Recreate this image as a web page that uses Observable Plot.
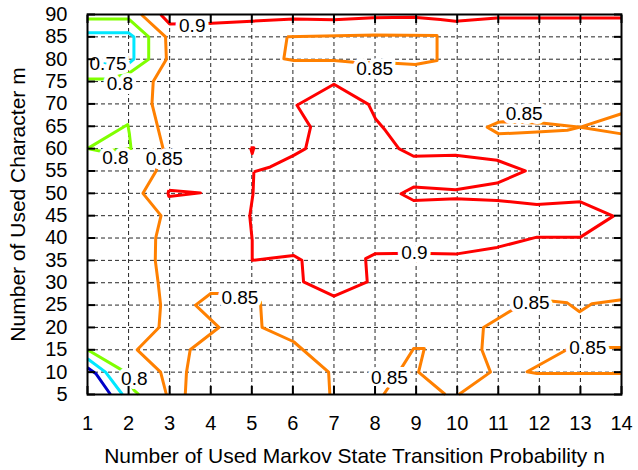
<!DOCTYPE html>
<html><head><meta charset="utf-8">
<script src="https://cdn.jsdelivr.net/npm/d3@7"></script>
<script src="https://cdn.jsdelivr.net/npm/@observablehq/plot@0.6"></script>
<style>html,body{margin:0;padding:0;background:#fff;} svg{display:block}</style>
</head><body><div id="chart"></div>
<script>
// Axes
const xTicks = [1,2,3,4,5,6,7,8,9,10,11,12,13,14];
const yTicks = [5,10,15,20,25,30,35,40,45,50,55,60,65,70,75,80,85,90];
const xTitle = "Number of Used Markov State Transition Probability n";
const yTitle = "Number of Used Character m";

// Contour levels and colours
const levels = [0.7, 0.75, 0.8, 0.85, 0.9];
const levelColors = ["#0000c8", "#00e8ff", "#80ff00", "#ff8000", "#ff0000"];

// Contour lines, [n, m] points
const red90Top = [[2.78,90],[3.0,87.9],[3.91,88],[5,88.5],[6.02,89],[7.0,88.8],[7.96,89.3],[8.94,89.4],[9.59,88.9],[9.96,88.5],[10.97,89.2],[14,89.2]];
const red90Center = [[5.05,54.8],[5.45,55.9],[6.02,58.5],[6.31,60],[6.43,64.8],[6.1,69.7],[7.0,74.4],[7.84,69.9],[8.01,66.7],[8.25,64.1],[8.58,60],[8.94,58.3],[9.96,58.5],[10.97,57.4],[11.66,55],[10.97,52.3],[9.96,50.8],[8.94,51.4],[8.63,49.9],[8.94,48.4],[9.96,48.8],[10.97,48.4],[11.94,47.5],[13.0,48.1],[13.8,44.9],[13.0,40.2],[11.94,40.2],[10.97,37.9],[9.96,36.4],[8.96,36.6],[8.01,36.5],[7.77,35.4],[7.81,30.2],[7.0,27],[6.26,30.2],[6.22,35],[6.02,36.1],[5.45,35.5],[5.01,35],[5.01,39.5],[4.95,44.9],[5.03,49.9],[5.05,54.8]];
const red90Dot = [[4.97,60.2],[5.05,60.2],[5.01,58.9],[4.97,60.2]];
const red90Wedge = [[2.98,50.7],[3.75,50.1],[2.98,49.3],[2.96,50],[2.98,50.7]];
const orange85Left = [[2.31,90],[2.9,85],[2.92,80],[2.6,75],[2.57,70],[2.84,60],[2.67,55],[2.35,50],[2.79,45],[2.66,40],[2.65,35],[2.72,30],[2.78,25],[2.74,20],[2.21,15],[2.78,10],[2.92,5]];
const orange85Mid = [[3.38,5],[3.41,10],[3.5,15],[4.2,20],[3.63,25],[4.0,27.6],[4.2,27.6],[4.7,27.2],[5.21,25.7],[5.25,20],[6.02,16.8],[6.87,10],[6.9,5]];
const orange85Low = [[8.21,5],[8.58,10],[8.94,15.3],[9.2,15.3],[9.06,10],[9.71,5]];
const orange85RightA = [[10.04,5],[10.81,10],[10.6,15],[10.64,20],[11.34,23.9],[11.8,25.5],[12.27,25.9],[12.68,25.5],[12.98,23.5],[13.28,25.3],[14,26.2]];
const orange85RightB = [[14,15.5],[13.18,15.5],[12.72,15.3],[11.7,10.1],[11.94,9.7],[14,9.7]];
const orange85Box = [[5.86,85],[8.0,85.4],[9.51,85.3],[9.51,79.7],[8.98,78.8],[8.45,79.1],[7.99,79.2],[7.48,79.3],[7.0,79.7],[6.02,79.7],[5.78,80.1],[5.86,85]];
const orange85Loop = [[14,67.8],[13,64.8],[12.11,65.7],[11.12,66],[11.01,65.9],[10.73,64.8],[11.01,63.3],[11.94,63.7],[12.68,64.1],[13,64.8],[14,63.3]];
const green80Top = [[1,75.6],[1.5,75.6],[2.0,76.8],[2.49,80],[2.49,85],[2.0,89],[1,89]];
const green80Mid = [[1,60],[1.98,65.4],[2.02,63.3],[2.06,60],[1.33,59.4],[1,60]];
const green80Low = [[1,15],[1.85,10.4],[2.13,6],[2.25,5]];
const cyan75Top = [[1,79],[2.0,79],[2.13,80],[2.13,85],[2.0,85.9],[1,85.9]];
const cyan75Low = [[1,13],[1.44,10],[1.85,5]];
const blue70Low = [[1,11],[1.2,9.7],[1.56,5]];

// Contour labels
const labelText = ["0.9","0.75","0.8","0.8","0.85","0.85","0.85","0.9","0.85","0.85","0.85","0.85","0.8"];
const labelN    = [3.55, 1.5, 1.79, 1.68, 2.87, 7.99, 11.63, 8.96, 4.71, 11.8, 13.18, 8.35, 2.14];
const labelM    = [87.4, 78.9, 74.5, 57.9, 57.6, 77.9, 67.8, 36.6, 26.6, 25.5, 15.5, 8.8, 8.4];

const contours = [
  ["red90Top", 0.9, red90Top], ["red90Center", 0.9, red90Center], ["red90Dot", 0.9, red90Dot], ["red90Wedge", 0.9, red90Wedge],
  ["orange85Left", 0.85, orange85Left], ["orange85Mid", 0.85, orange85Mid], ["orange85Low", 0.85, orange85Low],
  ["orange85RightA", 0.85, orange85RightA], ["orange85RightB", 0.85, orange85RightB], ["orange85Box", 0.85, orange85Box], ["orange85Loop", 0.85, orange85Loop],
  ["green80Top", 0.8, green80Top], ["green80Mid", 0.8, green80Mid], ["green80Low", 0.8, green80Low],
  ["cyan75Top", 0.75, cyan75Top], ["cyan75Low", 0.75, cyan75Low], ["blue70Low", 0.7, blue70Low]
];
const rows = contours.flatMap(([id, level, pts]) => pts.map(([n, m]) => ({id, level, n, m})));
const labels = labelText.map((t, i) => ({text: t, n: labelN[i], m: labelM[i]}));

const font = "Liberation Sans, Arial, Helvetica, sans-serif";
const chart = Plot.plot({
  width: 638, height: 470,
  marginLeft: 87, marginRight: 17, marginTop: 14, marginBottom: 76,
  style: {fontFamily: font, fontSize: "20px", color: "#000", background: "#fff"},
  x: {domain: [1, 14]},
  y: {domain: [5, 90]},
  color: {type: "ordinal", domain: levels, range: levelColors},
  marks: [
    Plot.gridX(xTicks, {stroke: "#000", strokeOpacity: 0.85, strokeWidth: 1, strokeDasharray: "4,3"}),
    Plot.gridY(yTicks, {stroke: "#000", strokeOpacity: 0.85, strokeWidth: 1, strokeDasharray: "4,3"}),
    Plot.line(rows, {x: "n", y: "m", z: "id", stroke: "level", strokeWidth: 3, strokeLinejoin: "round", strokeLinecap: "butt"}),
    Plot.text(labels, {x: "n", y: "m", text: "text", fill: "#000", stroke: "#fff", strokeWidth: 8, paintOrder: "stroke", fontSize: 19, fontFamily: font}),
    Plot.axisX(xTicks, {anchor: "bottom", tickSize: 0, tickPadding: 21, fontSize: 20, fontFamily: font, label: null}),
    Plot.axisY(yTicks, {anchor: "left", tickSize: 0, tickPadding: 20, fontSize: 20, fontFamily: font, label: null}),
    Plot.axisX(xTicks, {anchor: "bottom", tickSize: 8, dy: -8, tickFormat: () => "", label: null, strokeWidth: 2}),
    Plot.axisX(xTicks, {anchor: "top", tickSize: 8, dy: 8, tickFormat: () => "", label: null, strokeWidth: 2}),
    Plot.axisY(yTicks, {anchor: "left", tickSize: 8, dx: 8, tickFormat: () => "", label: null, strokeWidth: 2}),
    Plot.axisY(yTicks, {anchor: "right", tickSize: 8, dx: -8, tickFormat: () => "", label: null, strokeWidth: 2}),
    Plot.frame({stroke: "#000", strokeWidth: 2}),
    Plot.text([xTitle], {frameAnchor: "bottom", dy: 68, textAnchor: "middle", fontSize: 21, fontFamily: font, fill: "#000"}),
    Plot.text([yTitle], {frameAnchor: "left", rotate: -90, dx: -69, textAnchor: "middle", fontSize: 21, fontFamily: font, fill: "#000"})
  ]
});
document.getElementById("chart").appendChild(chart);
</script></body></html>
